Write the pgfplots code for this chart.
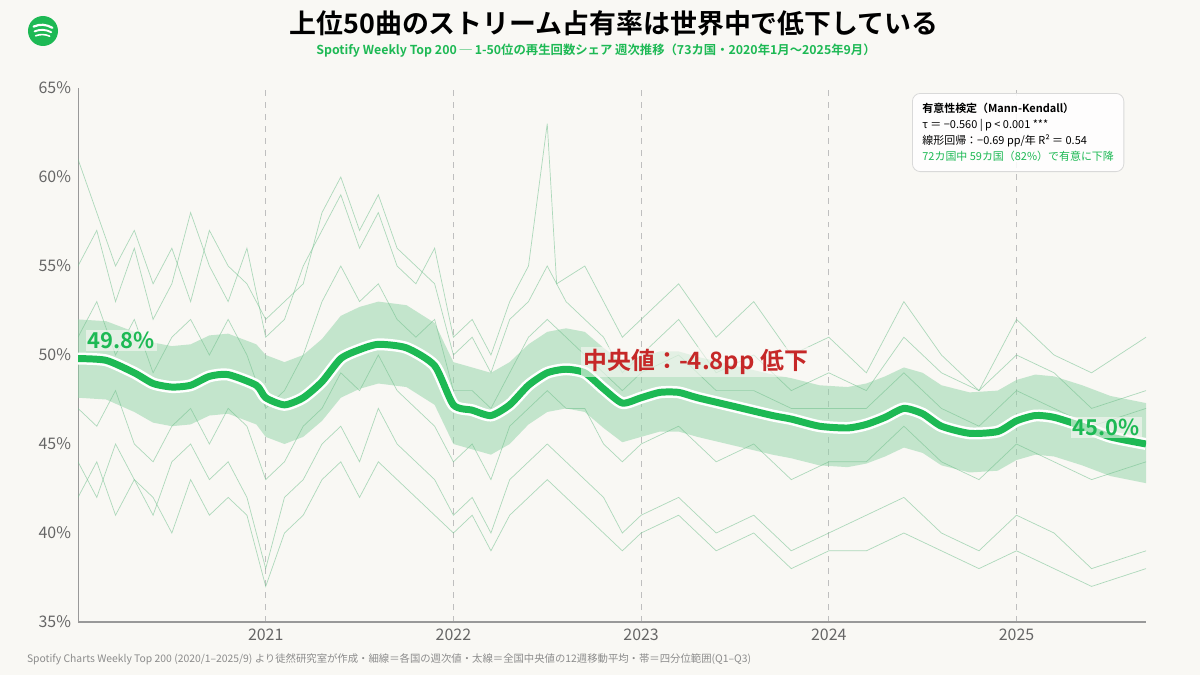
\documentclass[border=0pt]{standalone}
\usepackage{pgfplots}
\pgfplotsset{compat=1.18}
\usepackage{fontspec}
\setmainfont{Noto Sans CJK JP}
\newfontfamily\jpb{Noto Sans CJK JP Bold}
\definecolor{bg}{HTML}{F9F8F4}
\definecolor{sgreen}{HTML}{1DB954}
\definecolor{thinc}{HTML}{6FBF8C}
\definecolor{band}{HTML}{8FD3A6}
\definecolor{redc}{HTML}{C62828}
\begin{document}
\begin{tikzpicture}[x=1bp,y=1bp]
\fill[bg] (0,0) rectangle (600,337.5);
\begin{axis}[at={(39bp,26.5bp)},anchor=south west,width=534bp,height=267bp,scale only axis,
 xmin=2020.0,xmax=2025.69,ymin=35,ymax=65,
 axis line style={draw=none},
 axis x line*=bottom, axis y line*=left,
 xtick={2021,2022,2023,2024,2025},
 xticklabels={2021,2022,2023,2024,2025},
 ytick={35,40,45,50,55,60,65},
 yticklabels={35\%,40\%,45\%,50\%,55\%,60\%,65\%},
 tick style={draw=none},
 ticklabel style={font=\fontsize{8}{9}\selectfont,text=black!60},
 xmajorgrids, major grid style={dashed,black!25,line width=0.4pt},
 clip=true]
\draw[black!40,line width=0.6pt] (axis cs:2020,35) -- (axis cs:2025.69,35);
\draw[black!40,line width=0.6pt] (axis cs:2020,35) -- (axis cs:2020,65);
% IQR band
\addplot[draw=none,fill=band,fill opacity=0.5] coordinates {
(2020.0,52.0)(2020.15,51.9)(2020.3,51.3)(2020.4,50.7)(2020.5,50.5)(2020.6,50.6)(2020.7,51.1)(2020.8,51.2)(2020.95,50.6)(2021.0,50.0)(2021.1,49.6)(2021.2,50.0)(2021.3,50.9)(2021.4,52.2)(2021.5,52.7)(2021.6,53.0)(2021.75,52.8)(2021.9,51.8)(2022.0,49.6)(2022.1,49.3)(2022.2,49.0)(2022.3,49.6)(2022.4,50.6)(2022.5,51.3)(2022.6,51.5)(2022.7,51.3)(2022.8,50.4)(2022.9,49.6)(2023.0,49.9)(2023.1,50.2)(2023.2,50.2)(2023.3,49.9)(2023.5,49.4)(2023.7,48.9)(2023.8,48.7)(2023.95,48.3)(2024.1,48.2)(2024.2,48.4)(2024.3,48.8)(2024.4,49.3)(2024.5,49.0)(2024.6,48.3)(2024.75,47.9)(2024.9,48.0)(2025.0,48.6)(2025.1,48.9)(2025.2,48.8)(2025.35,48.3)(2025.5,47.7)(2025.69,47.3)
(2025.69,42.8)(2025.5,43.2)(2025.35,43.8)(2025.2,44.3)(2025.1,44.4)(2025.0,44.1)(2024.9,43.5)(2024.75,43.4)(2024.6,43.8)(2024.5,44.5)(2024.4,44.8)(2024.3,44.3)(2024.2,43.9)(2024.1,43.7)(2023.95,43.8)(2023.8,44.2)(2023.7,44.4)(2023.5,44.9)(2023.3,45.4)(2023.2,45.7)(2023.1,45.7)(2023.0,45.4)(2022.9,45.1)(2022.8,45.9)(2022.7,46.8)(2022.6,47.0)(2022.5,46.8)(2022.4,46.1)(2022.3,45.0)(2022.2,44.4)(2022.1,44.7)(2022.0,45.0)(2021.9,47.2)(2021.75,48.2)(2021.6,48.4)(2021.5,48.1)(2021.4,47.6)(2021.3,46.3)(2021.2,45.4)(2021.1,45.0)(2021.0,45.4)(2020.95,46.1)(2020.8,46.7)(2020.7,46.6)(2020.6,46.1)(2020.5,46.0)(2020.4,46.2)(2020.3,46.8)(2020.15,47.5)(2020.0,47.6)} --cycle;
% thin country lines
\pgfplotsset{cl/.style={thinc,line width=0.35pt,opacity=0.55}}
\addplot[cl] coordinates {(2020.0,55)(2020.1,57)(2020.2,53)(2020.3,56)(2020.4,52)(2020.5,54)(2020.6,58)(2020.7,55)(2020.8,53)(2020.9,56)(2021.0,51)(2021.1,52)(2021.2,55)(2021.3,57)(2021.4,59)(2021.5,56)(2021.6,58)(2021.7,55)(2021.8,54)(2021.9,56)(2022.0,51)(2022.1,52)(2022.2,50)(2022.3,53)(2022.4,55)(2022.5,63)(2022.55,54)(2022.7,55)(2022.8,53)(2022.9,51)(2023.0,52)(2023.2,54)(2023.4,51)(2023.6,53)(2023.8,50)(2024.0,51)(2024.2,49)(2024.4,53)(2024.6,50)(2024.8,48)(2025.0,52)(2025.2,50)(2025.4,49)(2025.69,51)};
\addplot[cl] coordinates {(2020.0,44)(2020.1,42)(2020.2,45)(2020.3,43)(2020.4,41)(2020.5,44)(2020.6,45)(2020.7,43)(2020.8,44)(2020.9,42)(2021.0,38)(2021.1,42)(2021.2,43)(2021.3,45)(2021.4,46)(2021.5,44)(2021.6,47)(2021.7,45)(2021.8,44)(2021.9,43)(2022.0,41)(2022.1,42)(2022.2,40)(2022.3,43)(2022.4,44)(2022.5,45)(2022.6,44)(2022.7,43)(2022.8,42)(2022.9,40)(2023.0,41)(2023.2,42)(2023.4,40)(2023.6,41)(2023.8,39)(2024.0,40)(2024.2,41)(2024.4,42)(2024.6,40)(2024.8,39)(2025.0,41)(2025.2,40)(2025.4,38)(2025.69,39)};
\addplot[cl] coordinates {(2020.0,61)(2020.1,58)(2020.2,55)(2020.3,57)(2020.4,54)(2020.5,56)(2020.6,53)(2020.7,57)(2020.8,55)(2020.9,54)(2021.0,52)(2021.1,53)(2021.2,54)(2021.3,58)(2021.4,60)(2021.5,57)(2021.6,59)(2021.7,56)(2021.8,55)(2021.9,54)(2022.0,50)(2022.1,51)(2022.2,49)(2022.3,52)(2022.4,53)(2022.5,55)(2022.6,53)(2022.7,52)(2022.8,51)(2022.9,49)(2023.0,50)(2023.2,52)(2023.4,49)(2023.6,50)(2023.8,48)(2024.0,49)(2024.2,48)(2024.4,51)(2024.6,49)(2024.8,48)(2025.0,50)(2025.2,49)(2025.4,47)(2025.69,48)};
\addplot[cl] coordinates {(2020.0,47)(2020.1,46)(2020.2,48)(2020.3,45)(2020.4,44)(2020.5,46)(2020.6,47)(2020.7,45)(2020.8,47)(2020.9,46)(2021.0,43)(2021.1,44)(2021.2,46)(2021.3,47)(2021.4,49)(2021.5,48)(2021.6,50)(2021.7,48)(2021.8,47)(2021.9,46)(2022.0,44)(2022.1,45)(2022.2,43)(2022.3,46)(2022.4,47)(2022.5,48)(2022.6,47)(2022.7,47)(2022.8,45)(2022.9,44)(2023.0,45)(2023.2,46)(2023.4,44)(2023.6,45)(2023.8,43)(2024.0,44)(2024.2,44)(2024.4,46)(2024.6,44)(2024.8,43)(2025.0,45)(2025.2,44)(2025.4,43)(2025.69,44)};
\addplot[cl] coordinates {(2020.0,51)(2020.1,53)(2020.2,50)(2020.3,52)(2020.4,49)(2020.5,51)(2020.6,52)(2020.7,50)(2020.8,52)(2020.9,50)(2021.0,47)(2021.1,48)(2021.2,50)(2021.3,53)(2021.4,55)(2021.5,53)(2021.6,54)(2021.7,52)(2021.8,51)(2021.9,52)(2022.0,48)(2022.1,48)(2022.2,47)(2022.3,49)(2022.4,51)(2022.5,52)(2022.6,51)(2022.7,50)(2022.8,49)(2022.9,48)(2023.0,49)(2023.2,50)(2023.4,48)(2023.6,48)(2023.8,47)(2024.0,47)(2024.2,47)(2024.4,49)(2024.6,47)(2024.8,46)(2025.0,48)(2025.2,47)(2025.4,46)(2025.69,47)};
\addplot[cl] coordinates {(2020.0,42)(2020.1,44)(2020.2,41)(2020.3,43)(2020.4,42)(2020.5,40)(2020.6,43)(2020.7,41)(2020.8,42)(2020.9,41)(2021.0,37)(2021.1,40)(2021.2,41)(2021.3,43)(2021.4,44)(2021.5,42)(2021.6,44)(2021.7,43)(2021.8,42)(2021.9,41)(2022.0,40)(2022.1,41)(2022.2,39)(2022.3,41)(2022.4,42)(2022.5,43)(2022.6,42)(2022.7,41)(2022.8,40)(2022.9,39)(2023.0,40)(2023.2,41)(2023.4,39)(2023.6,40)(2023.8,38)(2024.0,39)(2024.2,39)(2024.4,40)(2024.6,39)(2024.8,38)(2025.0,39)(2025.2,38)(2025.4,37)(2025.69,38)};
% median
\addplot[white,line width=6pt,line join=round,smooth,tension=0.4] coordinates {(2020.0,49.8)(2020.15,49.7)(2020.3,49.0)(2020.4,48.4)(2020.5,48.2)(2020.6,48.3)(2020.7,48.8)(2020.8,48.9)(2020.95,48.3)(2021.0,47.6)(2021.1,47.2)(2021.2,47.6)(2021.3,48.5)(2021.4,49.8)(2021.5,50.3)(2021.6,50.6)(2021.75,50.4)(2021.9,49.4)(2022.0,47.2)(2022.1,46.9)(2022.2,46.6)(2022.3,47.2)(2022.4,48.3)(2022.5,49.0)(2022.6,49.2)(2022.7,49.0)(2022.8,48.1)(2022.9,47.3)(2023.0,47.6)(2023.1,47.9)(2023.2,47.9)(2023.3,47.6)(2023.5,47.1)(2023.7,46.6)(2023.8,46.4)(2023.95,46.0)(2024.1,45.9)(2024.2,46.1)(2024.3,46.5)(2024.4,47.0)(2024.5,46.7)(2024.6,46.0)(2024.75,45.6)(2024.9,45.7)(2025.0,46.3)(2025.1,46.6)(2025.2,46.5)(2025.35,46.0)(2025.5,45.4)(2025.69,45.0)};
\addplot[sgreen,line width=3.5pt,line join=round,smooth,tension=0.4] coordinates {(2020.0,49.8)(2020.15,49.7)(2020.3,49.0)(2020.4,48.4)(2020.5,48.2)(2020.6,48.3)(2020.7,48.8)(2020.8,48.9)(2020.95,48.3)(2021.0,47.6)(2021.1,47.2)(2021.2,47.6)(2021.3,48.5)(2021.4,49.8)(2021.5,50.3)(2021.6,50.6)(2021.75,50.4)(2021.9,49.4)(2022.0,47.2)(2022.1,46.9)(2022.2,46.6)(2022.3,47.2)(2022.4,48.3)(2022.5,49.0)(2022.6,49.2)(2022.7,49.0)(2022.8,48.1)(2022.9,47.3)(2023.0,47.6)(2023.1,47.9)(2023.2,47.9)(2023.3,47.6)(2023.5,47.1)(2023.7,46.6)(2023.8,46.4)(2023.95,46.0)(2024.1,45.9)(2024.2,46.1)(2024.3,46.5)(2024.4,47.0)(2024.5,46.7)(2024.6,46.0)(2024.75,45.6)(2024.9,45.7)(2025.0,46.3)(2025.1,46.6)(2025.2,46.5)(2025.35,46.0)(2025.5,45.4)(2025.69,45.0)};
\node[anchor=south west,text=sgreen,font=\jpb\fontsize{11}{12}\selectfont,fill=bg,fill opacity=0.6,text opacity=1,inner sep=1pt] at (axis cs:2020.04,50.2) {49.8\%};
\node[anchor=south east,text=sgreen,font=\jpb\fontsize{11}{12}\selectfont,fill=bg,fill opacity=0.6,text opacity=1,inner sep=1pt] at (axis cs:2025.67,45.3) {45.0\%};
\node[anchor=west,text=redc,font=\jpb\fontsize{12}{13}\selectfont,fill=bg,fill opacity=0.6,text opacity=1,inner sep=1pt] at (axis cs:2022.68,49.6) {中央値：-4.8pp 低下};
\end{axis}
% info box
\node[anchor=north west,draw=black!15,fill=white,fill opacity=0.85,text opacity=1,rounded corners=4pt,align=left,inner sep=5pt,font=\fontsize{5.5}{8}\selectfont] at (456,291) {{\jpb 有意性検定（Mann-Kendall）}\\ τ ＝ −0.560 | p < 0.001 ***\\ 線形回帰：−0.69 pp/年 R² ＝ 0.54\\ \textcolor{sgreen}{72カ国中 59カ国（82\%）で有意に下降}};
% title
\node[font=\jpb\fontsize{13.5}{15}\selectfont] at (307,326) {上位50曲のストリーム占有率は世界中で低下している};
\node[text=sgreen,font=\jpb\fontsize{6.2}{7}\selectfont] at (298,312) {Spotify Weekly Top 200 ─ 1-50位の再生回数シェア 週次推移（73カ国・2020年1月〜2025年9月）};
% logo
\fill[sgreen] (21.5,322) circle (7.5);
\draw[white,line width=1.1pt,line cap=round] (16.8,324.2) .. controls (20,325.6) and (23,325.4) .. (26.2,323.6);
\draw[white,line width=0.95pt,line cap=round] (17.3,321.8) .. controls (20,323) and (23,322.8) .. (25.6,321.4);
\draw[white,line width=0.8pt,line cap=round] (17.8,319.6) .. controls (20.2,320.5) and (22.6,320.4) .. (24.8,319.4);
\node[anchor=west,text=black!45,font=\fontsize{5.2}{6}\selectfont] at (10,8) {Spotify Charts Weekly Top 200 (2020/1–2025/9) より徒然研究室が作成・細線＝各国の週次値・太線＝全国中央値の12週移動平均・帯＝四分位範囲(Q1–Q3)};
\end{tikzpicture}
\end{document}
